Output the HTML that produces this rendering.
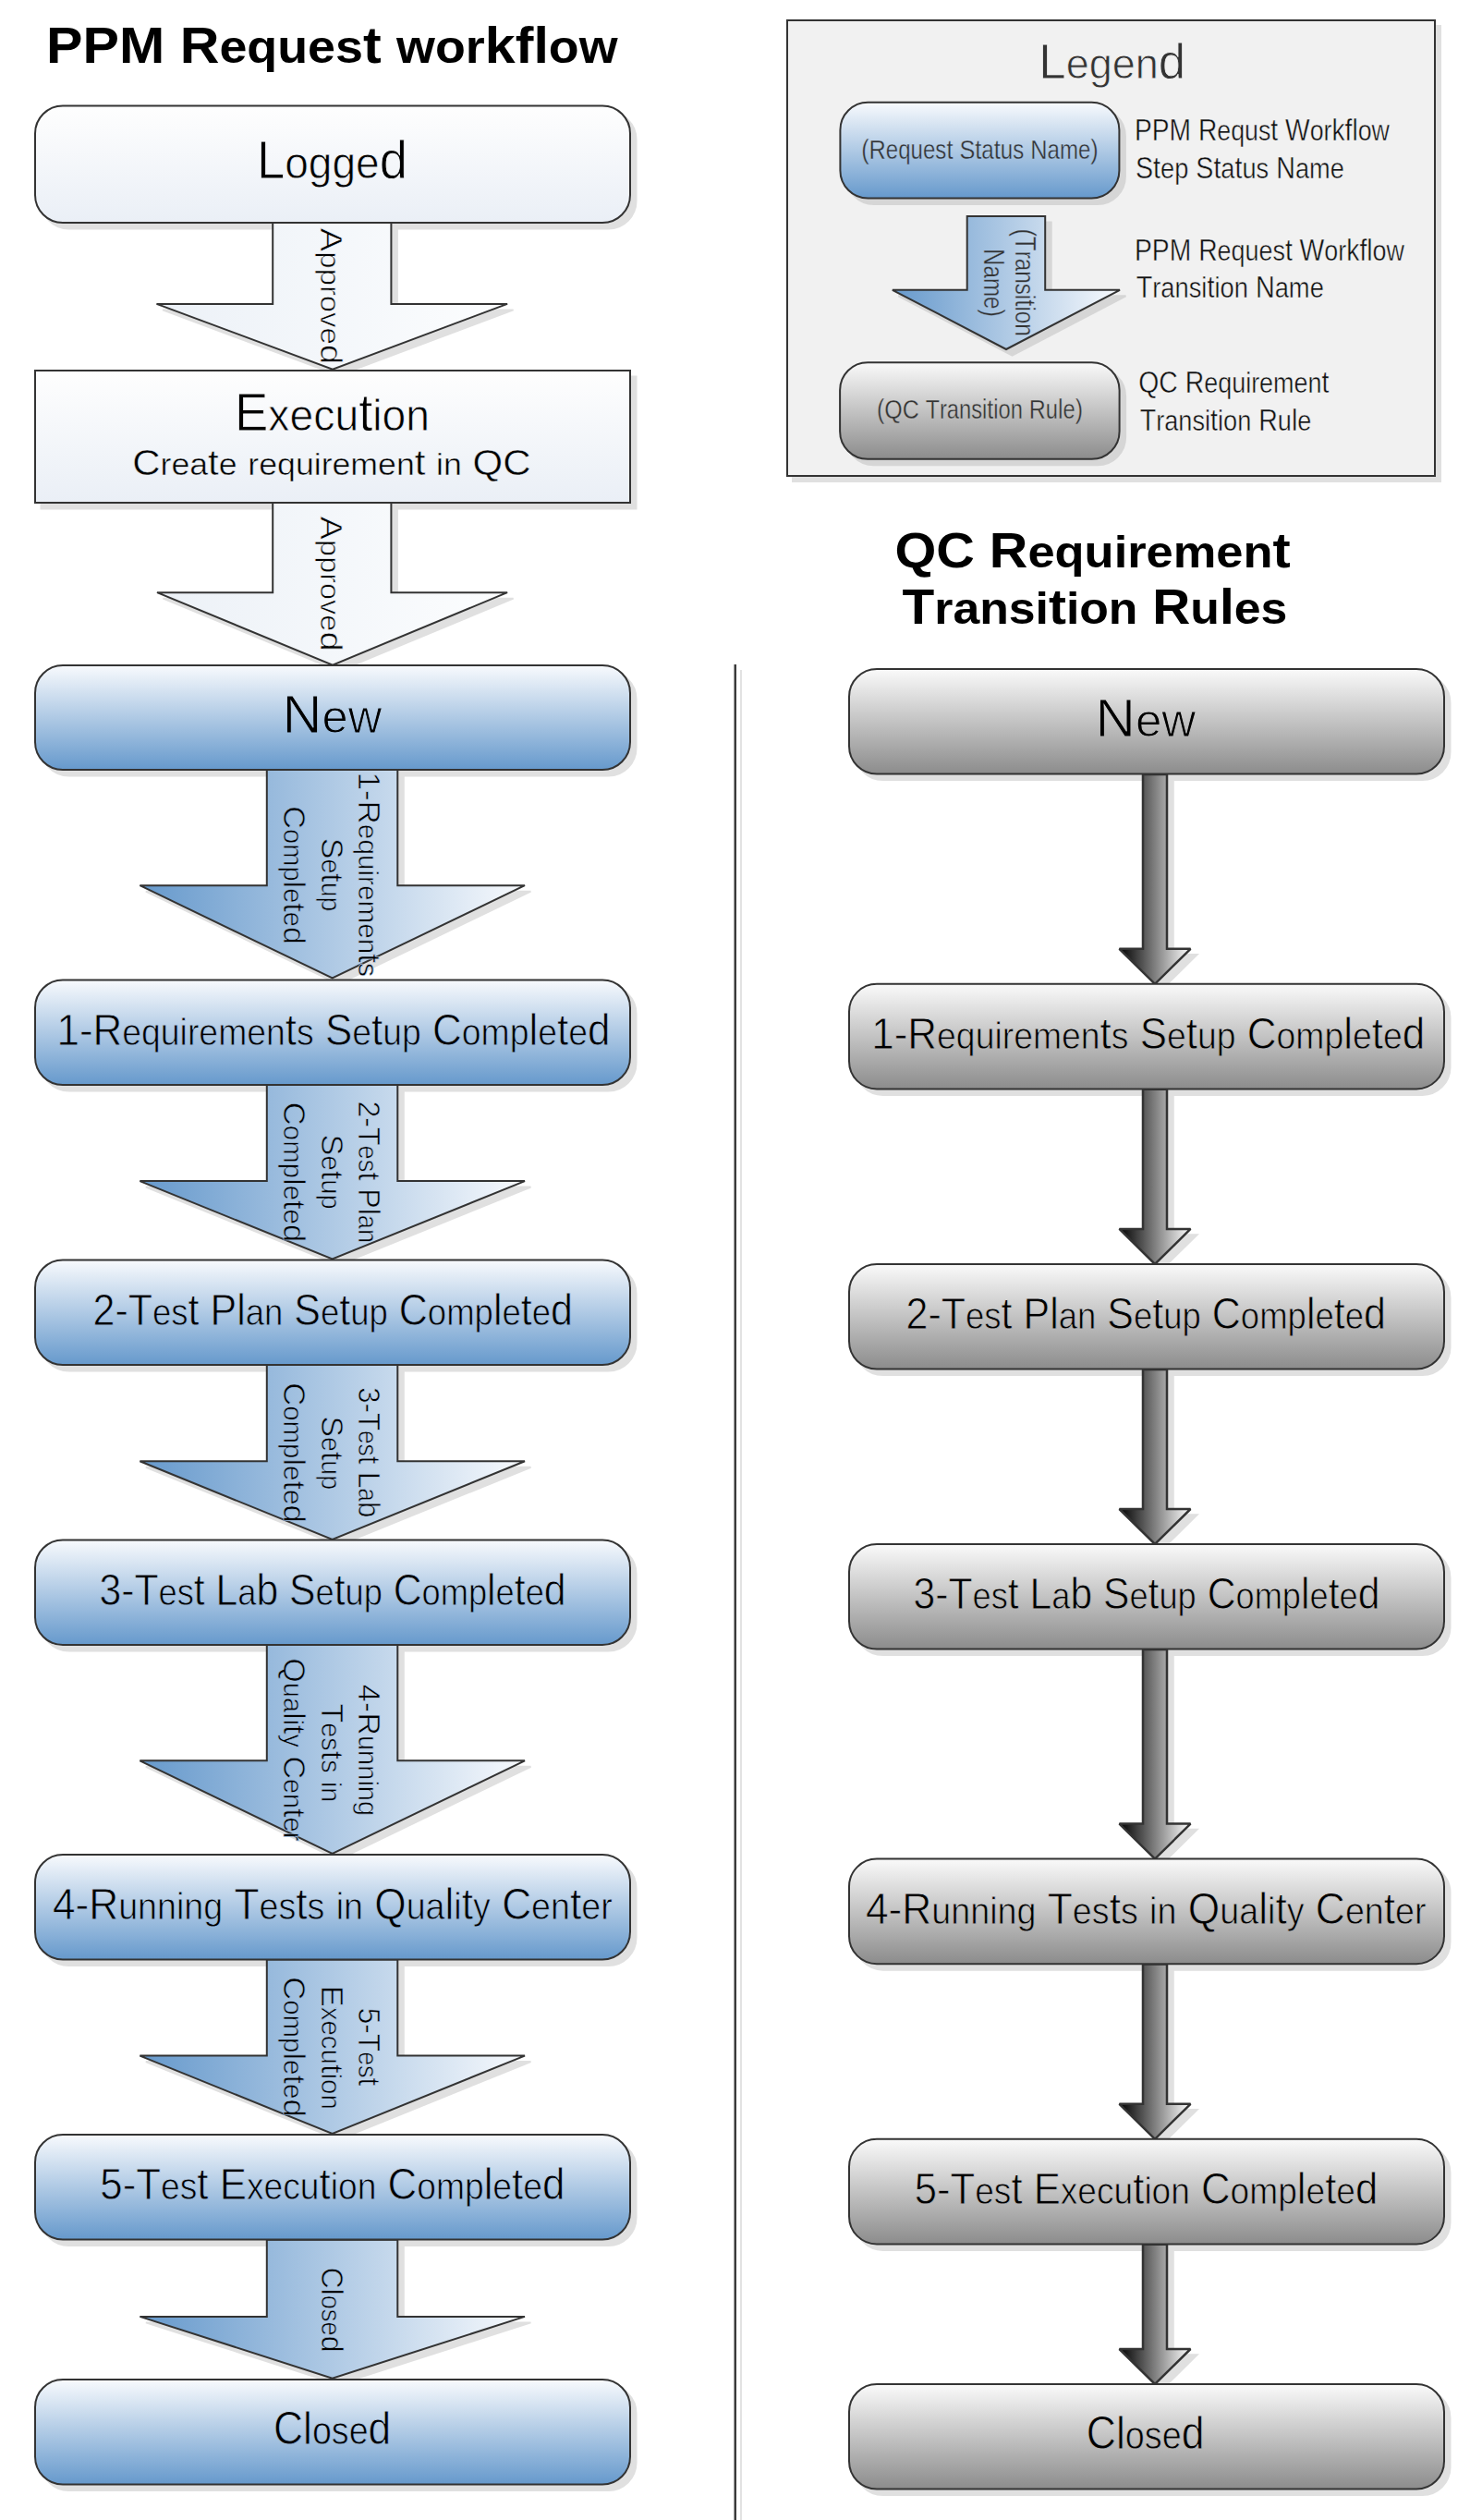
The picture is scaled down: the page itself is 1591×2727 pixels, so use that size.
<!DOCTYPE html>
<html><head><meta charset="utf-8"><title>PPM Request workflow</title>
<style>
html,body{margin:0;padding:0;background:#fff;}
body{width:1591px;height:2727px;overflow:hidden;}
svg{display:block;font-family:"Liberation Sans",sans-serif;font-kerning:none;}
text{font-kerning:none;}
</style></head><body>
<svg width="1591" height="2727" viewBox="0 0 1591 2727">

<defs>
 <linearGradient id="gBlue" x1="0" y1="0" x2="0" y2="1">
  <stop offset="0" stop-color="#f8fafd"/>
  <stop offset="1" stop-color="#6699cc"/>
 </linearGradient>
 <linearGradient id="gWhite" x1="0" y1="0" x2="0" y2="1">
  <stop offset="0" stop-color="#fefefe"/>
  <stop offset="1" stop-color="#eaeff6"/>
 </linearGradient>
 <linearGradient id="gGray" x1="0" y1="0" x2="0" y2="1">
  <stop offset="0" stop-color="#fafafa"/>
  <stop offset="1" stop-color="#8c8c8c"/>
 </linearGradient>
 <linearGradient id="gArrBlue" x1="0" y1="0" x2="1" y2="0">
  <stop offset="0" stop-color="#6699cc"/>
  <stop offset="1" stop-color="#f8fafd"/>
 </linearGradient>
 <linearGradient id="gArrLight" x1="0" y1="0" x2="1" y2="0">
  <stop offset="0" stop-color="#ecf1f7"/>
  <stop offset="1" stop-color="#fcfdfe"/>
 </linearGradient>
 <linearGradient id="gArrGray" x1="0" y1="0" x2="1" y2="0">
  <stop offset="0" stop-color="#000000"/>
  <stop offset="1" stop-color="#ffffff"/>
 </linearGradient>
<linearGradient id="gArrGrayU" gradientUnits="userSpaceOnUse" x1="1211.5" y1="0" x2="1288.5" y2="0">
  <stop offset="0" stop-color="#000"/><stop offset="1" stop-color="#fff"/></linearGradient>
<linearGradient id="u1" gradientUnits="userSpaceOnUse" x1="0.00" y1="114.50" x2="0.00" y2="240.50"><stop offset="0" stop-color="#fefefe"/><stop offset="1" stop-color="#eaeff6"/></linearGradient>
<linearGradient id="u2" gradientUnits="userSpaceOnUse" x1="0.00" y1="401.00" x2="0.00" y2="544.00"><stop offset="0" stop-color="#fefefe"/><stop offset="1" stop-color="#eaeff6"/></linearGradient>
<linearGradient id="u3" gradientUnits="userSpaceOnUse" x1="0.00" y1="401.00" x2="0.00" y2="544.00"><stop offset="0" stop-color="#fefefe"/><stop offset="1" stop-color="#eaeff6"/></linearGradient>
<linearGradient id="u4" gradientUnits="userSpaceOnUse" x1="0.00" y1="720.00" x2="0.00" y2="833.40"><stop offset="0" stop-color="#f8fafd"/><stop offset="1" stop-color="#6699cc"/></linearGradient>
<linearGradient id="u5" gradientUnits="userSpaceOnUse" x1="0.00" y1="1060.50" x2="0.00" y2="1173.90"><stop offset="0" stop-color="#f8fafd"/><stop offset="1" stop-color="#6699cc"/></linearGradient>
<linearGradient id="u6" gradientUnits="userSpaceOnUse" x1="0.00" y1="1363.50" x2="0.00" y2="1476.90"><stop offset="0" stop-color="#f8fafd"/><stop offset="1" stop-color="#6699cc"/></linearGradient>
<linearGradient id="u7" gradientUnits="userSpaceOnUse" x1="0.00" y1="1666.50" x2="0.00" y2="1779.90"><stop offset="0" stop-color="#f8fafd"/><stop offset="1" stop-color="#6699cc"/></linearGradient>
<linearGradient id="u8" gradientUnits="userSpaceOnUse" x1="0.00" y1="2007.00" x2="0.00" y2="2120.40"><stop offset="0" stop-color="#f8fafd"/><stop offset="1" stop-color="#6699cc"/></linearGradient>
<linearGradient id="u9" gradientUnits="userSpaceOnUse" x1="0.00" y1="2310.00" x2="0.00" y2="2423.40"><stop offset="0" stop-color="#f8fafd"/><stop offset="1" stop-color="#6699cc"/></linearGradient>
<linearGradient id="u10" gradientUnits="userSpaceOnUse" x1="0.00" y1="2575.20" x2="0.00" y2="2688.60"><stop offset="0" stop-color="#f8fafd"/><stop offset="1" stop-color="#6699cc"/></linearGradient>
<linearGradient id="u11" gradientUnits="userSpaceOnUse" x1="0.00" y1="178.30" x2="0.00" y2="-201.30"><stop offset="0" stop-color="#ecf1f7"/><stop offset="1" stop-color="#fcfdfe"/></linearGradient>
<linearGradient id="u12" gradientUnits="userSpaceOnUse" x1="0.00" y1="178.30" x2="0.00" y2="-201.30"><stop offset="0" stop-color="#ecf1f7"/><stop offset="1" stop-color="#fcfdfe"/></linearGradient>
<linearGradient id="u13" gradientUnits="userSpaceOnUse" x1="0.00" y1="237.00" x2="0.00" y2="-179.60"><stop offset="0" stop-color="#6699cc"/><stop offset="1" stop-color="#f8fafd"/></linearGradient>
<linearGradient id="u14" gradientUnits="userSpaceOnUse" x1="0.00" y1="196.60" x2="0.00" y2="-220.00"><stop offset="0" stop-color="#6699cc"/><stop offset="1" stop-color="#f8fafd"/></linearGradient>
<linearGradient id="u15" gradientUnits="userSpaceOnUse" x1="0.00" y1="156.20" x2="0.00" y2="-260.40"><stop offset="0" stop-color="#6699cc"/><stop offset="1" stop-color="#f8fafd"/></linearGradient>
<linearGradient id="u16" gradientUnits="userSpaceOnUse" x1="0.00" y1="237.00" x2="0.00" y2="-179.60"><stop offset="0" stop-color="#6699cc"/><stop offset="1" stop-color="#f8fafd"/></linearGradient>
<linearGradient id="u17" gradientUnits="userSpaceOnUse" x1="0.00" y1="196.60" x2="0.00" y2="-220.00"><stop offset="0" stop-color="#6699cc"/><stop offset="1" stop-color="#f8fafd"/></linearGradient>
<linearGradient id="u18" gradientUnits="userSpaceOnUse" x1="0.00" y1="156.20" x2="0.00" y2="-260.40"><stop offset="0" stop-color="#6699cc"/><stop offset="1" stop-color="#f8fafd"/></linearGradient>
<linearGradient id="u19" gradientUnits="userSpaceOnUse" x1="0.00" y1="237.00" x2="0.00" y2="-179.60"><stop offset="0" stop-color="#6699cc"/><stop offset="1" stop-color="#f8fafd"/></linearGradient>
<linearGradient id="u20" gradientUnits="userSpaceOnUse" x1="0.00" y1="196.60" x2="0.00" y2="-220.00"><stop offset="0" stop-color="#6699cc"/><stop offset="1" stop-color="#f8fafd"/></linearGradient>
<linearGradient id="u21" gradientUnits="userSpaceOnUse" x1="0.00" y1="156.20" x2="0.00" y2="-260.40"><stop offset="0" stop-color="#6699cc"/><stop offset="1" stop-color="#f8fafd"/></linearGradient>
<linearGradient id="u22" gradientUnits="userSpaceOnUse" x1="0.00" y1="237.00" x2="0.00" y2="-179.60"><stop offset="0" stop-color="#6699cc"/><stop offset="1" stop-color="#f8fafd"/></linearGradient>
<linearGradient id="u23" gradientUnits="userSpaceOnUse" x1="0.00" y1="196.60" x2="0.00" y2="-220.00"><stop offset="0" stop-color="#6699cc"/><stop offset="1" stop-color="#f8fafd"/></linearGradient>
<linearGradient id="u24" gradientUnits="userSpaceOnUse" x1="0.00" y1="156.20" x2="0.00" y2="-260.40"><stop offset="0" stop-color="#6699cc"/><stop offset="1" stop-color="#f8fafd"/></linearGradient>
<linearGradient id="u25" gradientUnits="userSpaceOnUse" x1="0.00" y1="237.00" x2="0.00" y2="-179.60"><stop offset="0" stop-color="#6699cc"/><stop offset="1" stop-color="#f8fafd"/></linearGradient>
<linearGradient id="u26" gradientUnits="userSpaceOnUse" x1="0.00" y1="196.60" x2="0.00" y2="-220.00"><stop offset="0" stop-color="#6699cc"/><stop offset="1" stop-color="#f8fafd"/></linearGradient>
<linearGradient id="u27" gradientUnits="userSpaceOnUse" x1="0.00" y1="156.20" x2="0.00" y2="-260.40"><stop offset="0" stop-color="#6699cc"/><stop offset="1" stop-color="#f8fafd"/></linearGradient>
<linearGradient id="u28" gradientUnits="userSpaceOnUse" x1="0.00" y1="196.60" x2="0.00" y2="-220.00"><stop offset="0" stop-color="#6699cc"/><stop offset="1" stop-color="#f8fafd"/></linearGradient>
<linearGradient id="u29" gradientUnits="userSpaceOnUse" x1="0.00" y1="724.00" x2="0.00" y2="837.60"><stop offset="0" stop-color="#fafafa"/><stop offset="1" stop-color="#8c8c8c"/></linearGradient>
<linearGradient id="u30" gradientUnits="userSpaceOnUse" x1="0.00" y1="1064.80" x2="0.00" y2="1178.40"><stop offset="0" stop-color="#fafafa"/><stop offset="1" stop-color="#8c8c8c"/></linearGradient>
<linearGradient id="u31" gradientUnits="userSpaceOnUse" x1="0.00" y1="1367.90" x2="0.00" y2="1481.50"><stop offset="0" stop-color="#fafafa"/><stop offset="1" stop-color="#8c8c8c"/></linearGradient>
<linearGradient id="u32" gradientUnits="userSpaceOnUse" x1="0.00" y1="1671.00" x2="0.00" y2="1784.60"><stop offset="0" stop-color="#fafafa"/><stop offset="1" stop-color="#8c8c8c"/></linearGradient>
<linearGradient id="u33" gradientUnits="userSpaceOnUse" x1="0.00" y1="2011.60" x2="0.00" y2="2125.20"><stop offset="0" stop-color="#fafafa"/><stop offset="1" stop-color="#8c8c8c"/></linearGradient>
<linearGradient id="u34" gradientUnits="userSpaceOnUse" x1="0.00" y1="2314.80" x2="0.00" y2="2428.40"><stop offset="0" stop-color="#fafafa"/><stop offset="1" stop-color="#8c8c8c"/></linearGradient>
<linearGradient id="u35" gradientUnits="userSpaceOnUse" x1="0.00" y1="2580.00" x2="0.00" y2="2693.60"><stop offset="0" stop-color="#fafafa"/><stop offset="1" stop-color="#8c8c8c"/></linearGradient>
<linearGradient id="u36" gradientUnits="userSpaceOnUse" x1="0.00" y1="110.70" x2="0.00" y2="214.60"><stop offset="0" stop-color="#f8fafd"/><stop offset="1" stop-color="#6699cc"/></linearGradient>
<linearGradient id="u37" gradientUnits="userSpaceOnUse" x1="0.00" y1="133.50" x2="0.00" y2="-112.60"><stop offset="0" stop-color="#6699cc"/><stop offset="1" stop-color="#f8fafd"/></linearGradient>
<linearGradient id="u38" gradientUnits="userSpaceOnUse" x1="0.00" y1="99.20" x2="0.00" y2="-146.90"><stop offset="0" stop-color="#6699cc"/><stop offset="1" stop-color="#f8fafd"/></linearGradient>
<linearGradient id="u39" gradientUnits="userSpaceOnUse" x1="0.00" y1="392.20" x2="0.00" y2="496.80"><stop offset="0" stop-color="#fafafa"/><stop offset="1" stop-color="#8c8c8c"/></linearGradient>
</defs>

<rect x="0" y="0" width="1591" height="2727" fill="#fff"/>
<path d="M301.70,247.00 L429.90,247.00 L429.90,335.40 L555.60,335.40 L366.50,406.10 L176.00,335.40 L301.70,335.40 Z" fill="#e0e0e0" stroke="#e0e0e0" stroke-width="2"/>
<path d="M301.70,550.30 L429.90,550.30 L429.90,647.70 L555.60,647.70 L366.50,726.10 L176.50,647.70 L301.70,647.70 Z" fill="#e0e0e0" stroke="#e0e0e0" stroke-width="2"/>
<path d="M295.30,839.00 L436.80,839.00 L436.80,964.70 L574.50,964.70 L366.20,1065.00 L157.90,964.70 L295.30,964.70 Z" fill="#e0e0e0" stroke="#e0e0e0" stroke-width="2"/>
<path d="M295.30,1180.20 L436.80,1180.20 L436.80,1284.60 L574.50,1284.60 L366.20,1369.00 L157.90,1284.60 L295.30,1284.60 Z" fill="#e0e0e0" stroke="#e0e0e0" stroke-width="2"/>
<path d="M295.30,1483.00 L436.80,1483.00 L436.80,1587.80 L574.50,1587.80 L366.20,1672.50 L157.90,1587.80 L295.30,1587.80 Z" fill="#e0e0e0" stroke="#e0e0e0" stroke-width="2"/>
<path d="M295.30,1786.20 L436.80,1786.20 L436.80,1911.80 L574.50,1911.80 L366.20,2012.40 L157.90,1911.80 L295.30,1911.80 Z" fill="#e0e0e0" stroke="#e0e0e0" stroke-width="2"/>
<path d="M295.30,2127.10 L436.80,2127.10 L436.80,2231.10 L574.50,2231.10 L366.20,2315.50 L157.90,2231.10 L295.30,2231.10 Z" fill="#e0e0e0" stroke="#e0e0e0" stroke-width="2"/>
<path d="M295.30,2430.20 L436.80,2430.20 L436.80,2513.40 L574.50,2513.40 L366.20,2580.10 L157.90,2513.40 L295.30,2513.40 Z" fill="#e0e0e0" stroke="#e0e0e0" stroke-width="2"/>
<rect x="44.50" y="121.00" width="644.00" height="126.50" rx="30.00" fill="#e0e0e0" stroke="#e0e0e0" stroke-width="2"/>
<rect x="44.50" y="407.50" width="644.00" height="143.00" rx="0.00" fill="#e0e0e0" stroke="#e0e0e0" stroke-width="2"/>
<rect x="44.50" y="726.50" width="644.00" height="113.00" rx="30.00" fill="#e0e0e0" stroke="#e0e0e0" stroke-width="2"/>
<rect x="44.50" y="1067.00" width="644.00" height="113.50" rx="30.00" fill="#e0e0e0" stroke="#e0e0e0" stroke-width="2"/>
<rect x="44.50" y="1370.00" width="644.00" height="113.50" rx="30.00" fill="#e0e0e0" stroke="#e0e0e0" stroke-width="2"/>
<rect x="44.50" y="1673.00" width="644.00" height="113.50" rx="30.00" fill="#e0e0e0" stroke="#e0e0e0" stroke-width="2"/>
<rect x="44.50" y="2013.50" width="644.00" height="113.50" rx="30.00" fill="#e0e0e0" stroke="#e0e0e0" stroke-width="2"/>
<rect x="44.50" y="2316.50" width="644.00" height="113.50" rx="30.00" fill="#e0e0e0" stroke="#e0e0e0" stroke-width="2"/>
<rect x="44.50" y="2581.50" width="644.00" height="113.50" rx="30.00" fill="#e0e0e0" stroke="#e0e0e0" stroke-width="2"/>
<path d="M1243.50,844.50 L1269.50,844.50 L1269.50,1033.30 L1295.00,1033.30 L1256.50,1071.30 L1218.00,1033.30 L1243.50,1033.30 Z" fill="#e0e0e0" stroke="#e0e0e0" stroke-width="2.5"/>
<path d="M1243.50,1185.30 L1269.50,1185.30 L1269.50,1336.40 L1295.00,1336.40 L1256.50,1374.40 L1218.00,1336.40 L1243.50,1336.40 Z" fill="#e0e0e0" stroke="#e0e0e0" stroke-width="2.5"/>
<path d="M1243.50,1488.40 L1269.50,1488.40 L1269.50,1639.50 L1295.00,1639.50 L1256.50,1677.50 L1218.00,1639.50 L1243.50,1639.50 Z" fill="#e0e0e0" stroke="#e0e0e0" stroke-width="2.5"/>
<path d="M1243.50,1791.50 L1269.50,1791.50 L1269.50,1980.10 L1295.00,1980.10 L1256.50,2018.10 L1218.00,1980.10 L1243.50,1980.10 Z" fill="#e0e0e0" stroke="#e0e0e0" stroke-width="2.5"/>
<path d="M1243.50,2132.10 L1269.50,2132.10 L1269.50,2283.30 L1295.00,2283.30 L1256.50,2321.30 L1218.00,2283.30 L1243.50,2283.30 Z" fill="#e0e0e0" stroke="#e0e0e0" stroke-width="2.5"/>
<path d="M1243.50,2435.30 L1269.50,2435.30 L1269.50,2548.50 L1295.00,2548.50 L1256.50,2586.50 L1218.00,2548.50 L1243.50,2548.50 Z" fill="#e0e0e0" stroke="#e0e0e0" stroke-width="2.5"/>
<rect x="925.50" y="730.50" width="644.00" height="113.60" rx="30.00" fill="#e0e0e0" stroke="#e0e0e0" stroke-width="2"/>
<rect x="925.50" y="1071.30" width="644.00" height="113.60" rx="30.00" fill="#e0e0e0" stroke="#e0e0e0" stroke-width="2"/>
<rect x="925.50" y="1374.40" width="644.00" height="113.60" rx="30.00" fill="#e0e0e0" stroke="#e0e0e0" stroke-width="2"/>
<rect x="925.50" y="1677.50" width="644.00" height="113.60" rx="30.00" fill="#e0e0e0" stroke="#e0e0e0" stroke-width="2"/>
<rect x="925.50" y="2018.10" width="644.00" height="113.60" rx="30.00" fill="#e0e0e0" stroke="#e0e0e0" stroke-width="2"/>
<rect x="925.50" y="2321.30" width="644.00" height="113.60" rx="30.00" fill="#e0e0e0" stroke="#e0e0e0" stroke-width="2"/>
<rect x="925.50" y="2586.50" width="644.00" height="113.60" rx="30.00" fill="#e0e0e0" stroke="#e0e0e0" stroke-width="2"/>
<rect x="858" y="28" width="701" height="493" fill="#e0e0e0" stroke="#e0e0e0" stroke-width="2"/>
<rect x="852" y="22" width="701" height="493" fill="#f1f1f1" stroke="#333333" stroke-width="2"/>
<rect x="915.90" y="117.20" width="302.00" height="103.90" rx="30.00" fill="#d6d6d6" stroke="#d6d6d6" stroke-width="2"/>
<path d="M1053.20,240.50 L1137.70,240.50 L1137.70,320.30 L1218.50,320.30 L1095.50,384.50 L972.40,320.30 L1053.20,320.30 Z" fill="#d6d6d6" stroke="#d6d6d6" stroke-width="2"/>
<rect x="915.60" y="398.70" width="302.50" height="104.60" rx="30.00" fill="#d6d6d6" stroke="#d6d6d6" stroke-width="2"/>
<text x="50.04" y="67.80" font-size="55.38" font-weight="bold" textLength="618.55" lengthAdjust="spacingAndGlyphs" fill="#000">PPM R<tspan font-size="50.39">eques</tspan>t <tspan font-size="50.39">wor</tspan>kfl<tspan font-size="50.39">ow</tspan></text>
<text x="968.44" y="614.00" font-size="53.49" font-weight="bold" textLength="428.27" lengthAdjust="spacingAndGlyphs" fill="#000">QC R<tspan font-size="48.68">equiremen</tspan>t</text>
<text x="976.56" y="674.70" font-size="53.34" font-weight="bold" textLength="416.76" lengthAdjust="spacingAndGlyphs" fill="#000">T<tspan font-size="48.54">ransi</tspan>t<tspan font-size="48.54">ion</tspan> R<tspan font-size="48.54">u</tspan>l<tspan font-size="48.54">es</tspan></text>
<rect x="801" y="725" width="2" height="2002" fill="#e2e2e2"/>
<rect x="794.5" y="719" width="2.5" height="2008" fill="#3a3a3a"/>
<path d="M295.20,240.50 L423.40,240.50 L423.40,328.90 L549.10,328.90 L360.00,399.60 L169.50,328.90 L295.20,328.90 Z" fill="url(#gArrLight)" stroke="#333333" stroke-width="2" stroke-linejoin="miter" stroke-miterlimit="2"/>
<path d="M295.20,543.80 L423.40,543.80 L423.40,641.20 L549.10,641.20 L360.00,719.60 L170.00,641.20 L295.20,641.20 Z" fill="url(#gArrLight)" stroke="#333333" stroke-width="2" stroke-linejoin="miter" stroke-miterlimit="2"/>
<path d="M288.80,832.50 L430.30,832.50 L430.30,958.20 L568.00,958.20 L359.70,1058.50 L151.40,958.20 L288.80,958.20 Z" fill="url(#gArrBlue)" stroke="#333333" stroke-width="2" stroke-linejoin="miter" stroke-miterlimit="2"/>
<path d="M288.80,1173.70 L430.30,1173.70 L430.30,1278.10 L568.00,1278.10 L359.70,1362.50 L151.40,1278.10 L288.80,1278.10 Z" fill="url(#gArrBlue)" stroke="#333333" stroke-width="2" stroke-linejoin="miter" stroke-miterlimit="2"/>
<path d="M288.80,1476.50 L430.30,1476.50 L430.30,1581.30 L568.00,1581.30 L359.70,1666.00 L151.40,1581.30 L288.80,1581.30 Z" fill="url(#gArrBlue)" stroke="#333333" stroke-width="2" stroke-linejoin="miter" stroke-miterlimit="2"/>
<path d="M288.80,1779.70 L430.30,1779.70 L430.30,1905.30 L568.00,1905.30 L359.70,2005.90 L151.40,1905.30 L288.80,1905.30 Z" fill="url(#gArrBlue)" stroke="#333333" stroke-width="2" stroke-linejoin="miter" stroke-miterlimit="2"/>
<path d="M288.80,2120.60 L430.30,2120.60 L430.30,2224.60 L568.00,2224.60 L359.70,2309.00 L151.40,2224.60 L288.80,2224.60 Z" fill="url(#gArrBlue)" stroke="#333333" stroke-width="2" stroke-linejoin="miter" stroke-miterlimit="2"/>
<path d="M288.80,2423.70 L430.30,2423.70 L430.30,2506.90 L568.00,2506.90 L359.70,2573.60 L151.40,2506.90 L288.80,2506.90 Z" fill="url(#gArrBlue)" stroke="#333333" stroke-width="2" stroke-linejoin="miter" stroke-miterlimit="2"/>
<rect x="38.00" y="114.50" width="644.00" height="126.50" rx="30.00" fill="url(#gWhite)" stroke="#333333" stroke-width="2"/>
<rect x="38.00" y="401.00" width="644.00" height="143.00" rx="0.00" fill="url(#gWhite)" stroke="#333333" stroke-width="2"/>
<rect x="38.00" y="720.00" width="644.00" height="113.00" rx="30.00" fill="url(#gBlue)" stroke="#333333" stroke-width="2"/>
<rect x="38.00" y="1060.50" width="644.00" height="113.50" rx="30.00" fill="url(#gBlue)" stroke="#333333" stroke-width="2"/>
<rect x="38.00" y="1363.50" width="644.00" height="113.50" rx="30.00" fill="url(#gBlue)" stroke="#333333" stroke-width="2"/>
<rect x="38.00" y="1666.50" width="644.00" height="113.50" rx="30.00" fill="url(#gBlue)" stroke="#333333" stroke-width="2"/>
<rect x="38.00" y="2007.00" width="644.00" height="113.50" rx="30.00" fill="url(#gBlue)" stroke="#333333" stroke-width="2"/>
<rect x="38.00" y="2310.00" width="644.00" height="113.50" rx="30.00" fill="url(#gBlue)" stroke="#333333" stroke-width="2"/>
<rect x="38.00" y="2575.00" width="644.00" height="113.50" rx="30.00" fill="url(#gBlue)" stroke="#333333" stroke-width="2"/>
<text x="277.95" y="193.30" font-size="56.54" textLength="162.95" lengthAdjust="spacingAndGlyphs" fill="#000" stroke="url(#u1)" stroke-width="0.80">L<tspan font-size="48.06">ogge</tspan>d</text>
<text x="254.03" y="465.80" font-size="56.69" textLength="211.08" lengthAdjust="spacingAndGlyphs" fill="#000" stroke="url(#u2)" stroke-width="0.80">E<tspan font-size="48.18">xecu</tspan>t<tspan font-size="48.18">ion</tspan></text>
<text x="143.22" y="513.55" font-size="39.39" textLength="431.33" lengthAdjust="spacingAndGlyphs" fill="#000" stroke="url(#u3)" stroke-width="0.50">C<tspan font-size="33.48">rea</tspan>t<tspan font-size="33.48">e</tspan> <tspan font-size="33.48">requiremen</tspan>t <tspan font-size="33.48">in</tspan> QC</text>
<text x="305.61" y="792.50" font-size="58.14" textLength="107.76" lengthAdjust="spacingAndGlyphs" fill="#000" stroke="url(#u4)" stroke-width="1.00">N<tspan font-size="49.42">ew</tspan></text>
<text x="61.45" y="1130.50" font-size="47.68" textLength="599.08" lengthAdjust="spacingAndGlyphs" fill="#000" stroke="url(#u5)" stroke-width="0.80">1-R<tspan font-size="40.52">equiremen</tspan>t<tspan font-size="40.52">s</tspan> S<tspan font-size="40.52">e</tspan>t<tspan font-size="40.52">up</tspan> C<tspan font-size="40.52">omp</tspan>l<tspan font-size="40.52">e</tspan>t<tspan font-size="40.52">e</tspan>d</text>
<text x="100.54" y="1433.50" font-size="47.68" textLength="519.43" lengthAdjust="spacingAndGlyphs" fill="#000" stroke="url(#u6)" stroke-width="0.80">2-T<tspan font-size="40.52">es</tspan>t Pl<tspan font-size="40.52">an</tspan> S<tspan font-size="40.52">e</tspan>t<tspan font-size="40.52">up</tspan> C<tspan font-size="40.52">omp</tspan>l<tspan font-size="40.52">e</tspan>t<tspan font-size="40.52">e</tspan>d</text>
<text x="107.47" y="1736.50" font-size="47.68" textLength="505.08" lengthAdjust="spacingAndGlyphs" fill="#000" stroke="url(#u7)" stroke-width="0.80">3-T<tspan font-size="40.52">es</tspan>t L<tspan font-size="40.52">a</tspan>b S<tspan font-size="40.52">e</tspan>t<tspan font-size="40.52">up</tspan> C<tspan font-size="40.52">omp</tspan>l<tspan font-size="40.52">e</tspan>t<tspan font-size="40.52">e</tspan>d</text>
<text x="56.88" y="2077.00" font-size="47.68" textLength="605.84" lengthAdjust="spacingAndGlyphs" fill="#000" stroke="url(#u8)" stroke-width="0.80">4-R<tspan font-size="40.52">unning</tspan> T<tspan font-size="40.52">es</tspan>t<tspan font-size="40.52">s</tspan> <tspan font-size="40.52">in</tspan> Q<tspan font-size="40.52">ua</tspan>l<tspan font-size="40.52">i</tspan>t<tspan font-size="40.52">y</tspan> C<tspan font-size="40.52">en</tspan>t<tspan font-size="40.52">er</tspan></text>
<text x="108.35" y="2380.00" font-size="47.68" textLength="502.98" lengthAdjust="spacingAndGlyphs" fill="#000" stroke="url(#u9)" stroke-width="0.80">5-T<tspan font-size="40.52">es</tspan>t E<tspan font-size="40.52">xecu</tspan>t<tspan font-size="40.52">ion</tspan> C<tspan font-size="40.52">omp</tspan>l<tspan font-size="40.52">e</tspan>t<tspan font-size="40.52">e</tspan>d</text>
<text x="296.05" y="2645.40" font-size="49.13" textLength="127.21" lengthAdjust="spacingAndGlyphs" fill="#000" stroke="url(#u10)" stroke-width="0.80">Cl<tspan font-size="41.76">ose</tspan>d</text>
<g transform="translate(347.80,0) rotate(90)"><text x="246.57" y="0.35" font-size="33.72" textLength="147.77" lengthAdjust="spacingAndGlyphs" fill="#000" stroke="url(#u11)" stroke-width="0.70">A<tspan font-size="28.66">pprove</tspan>d</text></g>
<g transform="translate(347.80,0) rotate(90)"><text x="558.58" y="0.35" font-size="33.72" textLength="146.14" lengthAdjust="spacingAndGlyphs" fill="#000" stroke="url(#u12)" stroke-width="0.70">A<tspan font-size="28.66">pprove</tspan>d</text></g>
<g transform="translate(388.40,0) rotate(90)"><text x="835.49" y="0.35" font-size="33.72" textLength="221.44" lengthAdjust="spacingAndGlyphs" fill="#000" stroke="url(#u13)" stroke-width="0.70">1-R<tspan font-size="28.66">equiremen</tspan>t<tspan font-size="28.66">s</tspan></text></g>
<g transform="translate(348.00,0) rotate(90)"><text x="906.92" y="0.35" font-size="33.72" textLength="79.63" lengthAdjust="spacingAndGlyphs" fill="#000" stroke="url(#u14)" stroke-width="0.70">S<tspan font-size="28.66">e</tspan>t<tspan font-size="28.66">up</tspan></text></g>
<g transform="translate(307.60,0) rotate(90)"><text x="872.31" y="0.35" font-size="33.72" textLength="149.74" lengthAdjust="spacingAndGlyphs" fill="#000" stroke="url(#u15)" stroke-width="0.70">C<tspan font-size="28.66">omp</tspan>l<tspan font-size="28.66">e</tspan>t<tspan font-size="28.66">e</tspan>d</text></g>
<g transform="translate(388.40,0) rotate(90)"><text x="1191.44" y="0.35" font-size="33.72" textLength="153.69" lengthAdjust="spacingAndGlyphs" fill="#000" stroke="url(#u16)" stroke-width="0.70">2-T<tspan font-size="28.66">es</tspan>t Pl<tspan font-size="28.66">an</tspan></text></g>
<g transform="translate(348.00,0) rotate(90)"><text x="1227.49" y="0.35" font-size="33.72" textLength="81.29" lengthAdjust="spacingAndGlyphs" fill="#000" stroke="url(#u17)" stroke-width="0.70">S<tspan font-size="28.66">e</tspan>t<tspan font-size="28.66">up</tspan></text></g>
<g transform="translate(307.60,0) rotate(90)"><text x="1192.89" y="0.35" font-size="33.72" textLength="151.28" lengthAdjust="spacingAndGlyphs" fill="#000" stroke="url(#u18)" stroke-width="0.70">C<tspan font-size="28.66">omp</tspan>l<tspan font-size="28.66">e</tspan>t<tspan font-size="28.66">e</tspan>d</text></g>
<g transform="translate(388.40,0) rotate(90)"><text x="1501.37" y="0.35" font-size="33.72" textLength="140.89" lengthAdjust="spacingAndGlyphs" fill="#000" stroke="url(#u19)" stroke-width="0.70">3-T<tspan font-size="28.66">es</tspan>t L<tspan font-size="28.66">a</tspan>b</text></g>
<g transform="translate(348.00,0) rotate(90)"><text x="1532.52" y="0.35" font-size="33.72" textLength="79.74" lengthAdjust="spacingAndGlyphs" fill="#000" stroke="url(#u20)" stroke-width="0.70">S<tspan font-size="28.66">e</tspan>t<tspan font-size="28.66">up</tspan></text></g>
<g transform="translate(307.60,0) rotate(90)"><text x="1496.29" y="0.35" font-size="33.72" textLength="151.39" lengthAdjust="spacingAndGlyphs" fill="#000" stroke="url(#u21)" stroke-width="0.70">C<tspan font-size="28.66">omp</tspan>l<tspan font-size="28.66">e</tspan>t<tspan font-size="28.66">e</tspan>d</text></g>
<g transform="translate(388.40,0) rotate(90)"><text x="1822.76" y="0.35" font-size="33.72" textLength="142.46" lengthAdjust="spacingAndGlyphs" fill="#000" stroke="url(#u22)" stroke-width="0.70">4-R<tspan font-size="28.66">unning</tspan></text></g>
<g transform="translate(348.00,0) rotate(90)"><text x="1843.69" y="0.35" font-size="33.72" textLength="106.63" lengthAdjust="spacingAndGlyphs" fill="#000" stroke="url(#u23)" stroke-width="0.70">T<tspan font-size="28.66">es</tspan>t<tspan font-size="28.66">s</tspan> <tspan font-size="28.66">in</tspan></text></g>
<g transform="translate(307.60,0) rotate(90)"><text x="1794.34" y="0.35" font-size="33.72" textLength="197.99" lengthAdjust="spacingAndGlyphs" fill="#000" stroke="url(#u24)" stroke-width="0.70">Q<tspan font-size="28.66">ua</tspan>l<tspan font-size="28.66">i</tspan>t<tspan font-size="28.66">y</tspan> C<tspan font-size="28.66">en</tspan>t<tspan font-size="28.66">er</tspan></text></g>
<g transform="translate(388.40,0) rotate(90)"><text x="2172.79" y="0.35" font-size="33.72" textLength="84.50" lengthAdjust="spacingAndGlyphs" fill="#000" stroke="url(#u25)" stroke-width="0.70">5-T<tspan font-size="28.66">es</tspan>t</text></g>
<g transform="translate(348.00,0) rotate(90)"><text x="2148.71" y="0.35" font-size="33.72" textLength="134.15" lengthAdjust="spacingAndGlyphs" fill="#000" stroke="url(#u26)" stroke-width="0.70">E<tspan font-size="28.66">xecu</tspan>t<tspan font-size="28.66">ion</tspan></text></g>
<g transform="translate(307.60,0) rotate(90)"><text x="2139.29" y="0.35" font-size="33.72" textLength="151.39" lengthAdjust="spacingAndGlyphs" fill="#000" stroke="url(#u27)" stroke-width="0.70">C<tspan font-size="28.66">omp</tspan>l<tspan font-size="28.66">e</tspan>t<tspan font-size="28.66">e</tspan>d</text></g>
<g transform="translate(348.00,0) rotate(90)"><text x="2453.42" y="0.35" font-size="33.72" textLength="92.10" lengthAdjust="spacingAndGlyphs" fill="#000" stroke="url(#u28)" stroke-width="0.70">Cl<tspan font-size="28.66">ose</tspan>d</text></g>
<path d="M1237.00,838.00 L1263.00,838.00 L1263.00,1026.80 L1288.50,1026.80 L1250.00,1064.80 L1211.50,1026.80 L1237.00,1026.80 Z" fill="url(#gArrGrayU)" stroke="#333333" stroke-width="2.5" stroke-linejoin="miter" stroke-miterlimit="2"/>
<path d="M1237.00,1178.80 L1263.00,1178.80 L1263.00,1329.90 L1288.50,1329.90 L1250.00,1367.90 L1211.50,1329.90 L1237.00,1329.90 Z" fill="url(#gArrGrayU)" stroke="#333333" stroke-width="2.5" stroke-linejoin="miter" stroke-miterlimit="2"/>
<path d="M1237.00,1481.90 L1263.00,1481.90 L1263.00,1633.00 L1288.50,1633.00 L1250.00,1671.00 L1211.50,1633.00 L1237.00,1633.00 Z" fill="url(#gArrGrayU)" stroke="#333333" stroke-width="2.5" stroke-linejoin="miter" stroke-miterlimit="2"/>
<path d="M1237.00,1785.00 L1263.00,1785.00 L1263.00,1973.60 L1288.50,1973.60 L1250.00,2011.60 L1211.50,1973.60 L1237.00,1973.60 Z" fill="url(#gArrGrayU)" stroke="#333333" stroke-width="2.5" stroke-linejoin="miter" stroke-miterlimit="2"/>
<path d="M1237.00,2125.60 L1263.00,2125.60 L1263.00,2276.80 L1288.50,2276.80 L1250.00,2314.80 L1211.50,2276.80 L1237.00,2276.80 Z" fill="url(#gArrGrayU)" stroke="#333333" stroke-width="2.5" stroke-linejoin="miter" stroke-miterlimit="2"/>
<path d="M1237.00,2428.80 L1263.00,2428.80 L1263.00,2542.00 L1288.50,2542.00 L1250.00,2580.00 L1211.50,2542.00 L1237.00,2542.00 Z" fill="url(#gArrGrayU)" stroke="#333333" stroke-width="2.5" stroke-linejoin="miter" stroke-miterlimit="2"/>
<rect x="919.00" y="724.00" width="644.00" height="113.60" rx="30.00" fill="url(#gGray)" stroke="#333333" stroke-width="2"/>
<rect x="919.00" y="1064.80" width="644.00" height="113.60" rx="30.00" fill="url(#gGray)" stroke="#333333" stroke-width="2"/>
<rect x="919.00" y="1367.90" width="644.00" height="113.60" rx="30.00" fill="url(#gGray)" stroke="#333333" stroke-width="2"/>
<rect x="919.00" y="1671.00" width="644.00" height="113.60" rx="30.00" fill="url(#gGray)" stroke="#333333" stroke-width="2"/>
<rect x="919.00" y="2011.60" width="644.00" height="113.60" rx="30.00" fill="url(#gGray)" stroke="#333333" stroke-width="2"/>
<rect x="919.00" y="2314.80" width="644.00" height="113.60" rx="30.00" fill="url(#gGray)" stroke="#333333" stroke-width="2"/>
<rect x="919.00" y="2580.00" width="644.00" height="113.60" rx="30.00" fill="url(#gGray)" stroke="#333333" stroke-width="2"/>
<text x="1185.57" y="796.50" font-size="58.14" textLength="108.71" lengthAdjust="spacingAndGlyphs" fill="#000" stroke="url(#u29)" stroke-width="1.00">N<tspan font-size="49.42">ew</tspan></text>
<text x="943.25" y="1134.80" font-size="47.68" textLength="598.98" lengthAdjust="spacingAndGlyphs" fill="#000" stroke="url(#u30)" stroke-width="0.80">1-R<tspan font-size="40.52">equiremen</tspan>t<tspan font-size="40.52">s</tspan> S<tspan font-size="40.52">e</tspan>t<tspan font-size="40.52">up</tspan> C<tspan font-size="40.52">omp</tspan>l<tspan font-size="40.52">e</tspan>t<tspan font-size="40.52">e</tspan>d</text>
<text x="980.54" y="1437.90" font-size="47.68" textLength="519.43" lengthAdjust="spacingAndGlyphs" fill="#000" stroke="url(#u31)" stroke-width="0.80">2-T<tspan font-size="40.52">es</tspan>t Pl<tspan font-size="40.52">an</tspan> S<tspan font-size="40.52">e</tspan>t<tspan font-size="40.52">up</tspan> C<tspan font-size="40.52">omp</tspan>l<tspan font-size="40.52">e</tspan>t<tspan font-size="40.52">e</tspan>d</text>
<text x="988.47" y="1741.00" font-size="47.68" textLength="504.98" lengthAdjust="spacingAndGlyphs" fill="#000" stroke="url(#u32)" stroke-width="0.80">3-T<tspan font-size="40.52">es</tspan>t L<tspan font-size="40.52">a</tspan>b S<tspan font-size="40.52">e</tspan>t<tspan font-size="40.52">up</tspan> C<tspan font-size="40.52">omp</tspan>l<tspan font-size="40.52">e</tspan>t<tspan font-size="40.52">e</tspan>d</text>
<text x="936.88" y="2081.60" font-size="47.68" textLength="606.74" lengthAdjust="spacingAndGlyphs" fill="#000" stroke="url(#u33)" stroke-width="0.80">4-R<tspan font-size="40.52">unning</tspan> T<tspan font-size="40.52">es</tspan>t<tspan font-size="40.52">s</tspan> <tspan font-size="40.52">in</tspan> Q<tspan font-size="40.52">ua</tspan>l<tspan font-size="40.52">i</tspan>t<tspan font-size="40.52">y</tspan> C<tspan font-size="40.52">en</tspan>t<tspan font-size="40.52">er</tspan></text>
<text x="989.65" y="2384.80" font-size="47.68" textLength="501.66" lengthAdjust="spacingAndGlyphs" fill="#000" stroke="url(#u34)" stroke-width="0.80">5-T<tspan font-size="40.52">es</tspan>t E<tspan font-size="40.52">xecu</tspan>t<tspan font-size="40.52">ion</tspan> C<tspan font-size="40.52">omp</tspan>l<tspan font-size="40.52">e</tspan>t<tspan font-size="40.52">e</tspan>d</text>
<text x="1175.84" y="2650.40" font-size="49.13" textLength="127.62" lengthAdjust="spacingAndGlyphs" fill="#000" stroke="url(#u35)" stroke-width="0.80">Cl<tspan font-size="41.76">ose</tspan>d</text>
<text x="1124.26" y="85.20" font-size="54.51" textLength="158.95" lengthAdjust="spacingAndGlyphs" fill="#333" stroke="#f1f1f1" stroke-width="0.80">L<tspan font-size="46.33">egen</tspan>d</text>
<rect x="909.40" y="110.70" width="302.00" height="103.90" rx="30.00" fill="url(#gBlue)" stroke="#333333" stroke-width="2"/>
<text x="932.13" y="172.10" font-size="30.23" textLength="256.64" lengthAdjust="spacingAndGlyphs" fill="#333" stroke="url(#u36)" stroke-width="0.40">(R<tspan font-size="28.72">eques</tspan>t St<tspan font-size="28.72">a</tspan>t<tspan font-size="28.72">us</tspan> N<tspan font-size="28.72">ame</tspan>)</text>
<path d="M1046.70,234.00 L1131.20,234.00 L1131.20,313.80 L1212.00,313.80 L1089.00,378.00 L965.90,313.80 L1046.70,313.80 Z" fill="url(#gArrBlue)" stroke="#333333" stroke-width="2" stroke-linejoin="miter" stroke-miterlimit="2"/>
<g transform="translate(1099.40,0) rotate(90)"><text x="247.62" y="0.20" font-size="30.81" textLength="116.16" lengthAdjust="spacingAndGlyphs" fill="#333" stroke="url(#u37)" stroke-width="0.40">(T<tspan font-size="29.27">ransi</tspan>t<tspan font-size="29.27">ion</tspan></text></g>
<g transform="translate(1065.10,0) rotate(90)"><text x="269.11" y="0.20" font-size="30.81" textLength="73.86" lengthAdjust="spacingAndGlyphs" fill="#333" stroke="url(#u38)" stroke-width="0.40">N<tspan font-size="29.27">ame</tspan>)</text></g>
<rect x="909.10" y="392.20" width="302.50" height="104.60" rx="30.00" fill="url(#gGray)" stroke="#333333" stroke-width="2"/>
<text x="948.95" y="452.90" font-size="30.23" textLength="223.20" lengthAdjust="spacingAndGlyphs" fill="#333" stroke="url(#u39)" stroke-width="0.40">(QC T<tspan font-size="28.72">ransi</tspan>t<tspan font-size="28.72">ion</tspan> R<tspan font-size="28.72">u</tspan>l<tspan font-size="28.72">e</tspan>)</text>
<text x="1227.96" y="151.92" font-size="33.65" textLength="276.00" lengthAdjust="spacingAndGlyphs" fill="#111" stroke="#f1f1f1" stroke-width="0.45">PPM R<tspan font-size="31.97">equs</tspan>t W<tspan font-size="31.97">or</tspan>kfl<tspan font-size="31.97">ow</tspan></text>
<text x="1228.97" y="192.53" font-size="33.36" textLength="225.86" lengthAdjust="spacingAndGlyphs" fill="#111" stroke="#f1f1f1" stroke-width="0.45">St<tspan font-size="31.69">ep</tspan> St<tspan font-size="31.69">a</tspan>t<tspan font-size="31.69">us</tspan> N<tspan font-size="31.69">ame</tspan></text>
<text x="1227.95" y="281.73" font-size="33.36" textLength="292.01" lengthAdjust="spacingAndGlyphs" fill="#111" stroke="#f1f1f1" stroke-width="0.45">PPM R<tspan font-size="31.69">eques</tspan>t W<tspan font-size="31.69">or</tspan>kfl<tspan font-size="31.69">ow</tspan></text>
<text x="1229.63" y="321.83" font-size="33.50" textLength="203.21" lengthAdjust="spacingAndGlyphs" fill="#111" stroke="#f1f1f1" stroke-width="0.45">T<tspan font-size="31.83">ransi</tspan>t<tspan font-size="31.83">ion</tspan> N<tspan font-size="31.83">ame</tspan></text>
<text x="1232.23" y="424.73" font-size="33.36" textLength="206.20" lengthAdjust="spacingAndGlyphs" fill="#111" stroke="#f1f1f1" stroke-width="0.45">QC R<tspan font-size="31.69">equiremen</tspan>t</text>
<text x="1233.73" y="466.03" font-size="33.36" textLength="185.70" lengthAdjust="spacingAndGlyphs" fill="#111" stroke="#f1f1f1" stroke-width="0.45">T<tspan font-size="31.69">ransi</tspan>t<tspan font-size="31.69">ion</tspan> R<tspan font-size="31.69">u</tspan>l<tspan font-size="31.69">e</tspan></text>
</svg>
</body></html>
